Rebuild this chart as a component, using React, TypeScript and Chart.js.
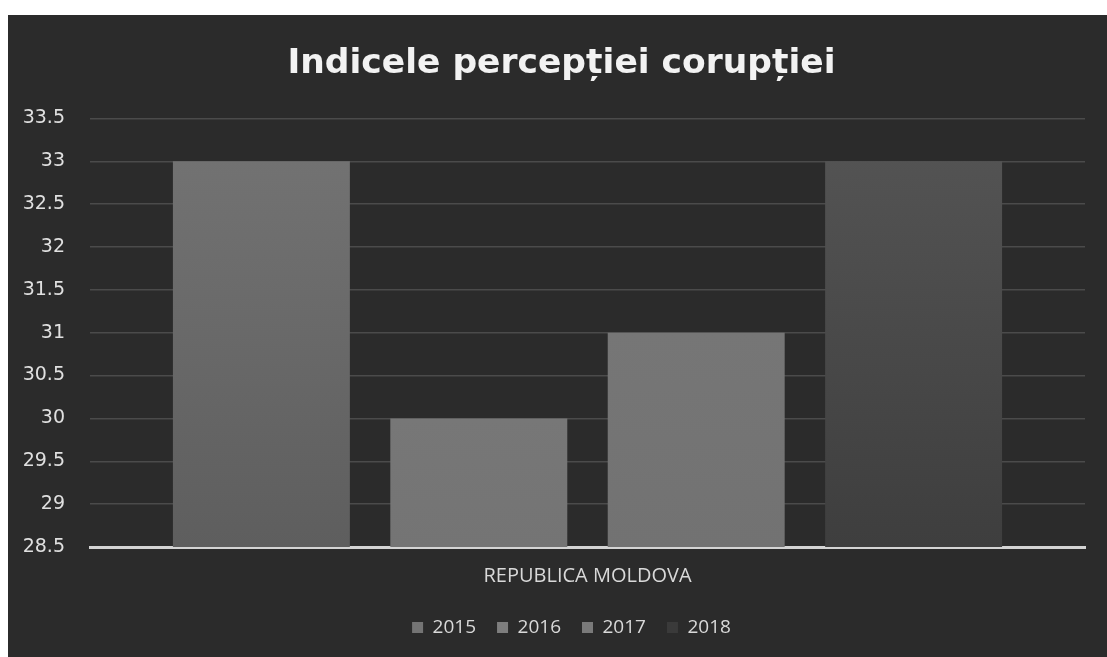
import React, { useEffect, useRef } from "react";
import { Chart, registerables } from "chart.js";

Chart.register(...registerables);

const categories = ["REPUBLICA MOLDOVA"];
const seriesNames = ["2015", "2016", "2017", "2018"];
const seriesValues = [33, 30, 31, 33];
const seriesTop = ["#747474", "#7e7e7e", "#7a7a7a", "#555555"];
const seriesBottom = ["#5e5e5e", "#747474", "#727272", "#3e3e3e"];
const yMin = 28.5;
const yMax = 33.5;
const yStep = 0.5;
const titleText = "Indicele percepției corupției";

const FONT = "'Open Sans', 'DejaVu Sans', sans-serif";
const FONT_WIDE = "'DejaVu Sans', sans-serif";

const boxShift = {
  id: "boxShift",
  afterLayout(chart: any) {
    const lg = chart.legend;
    if (lg) {
      lg.left += 25;
      lg.right += 25;
    }
    const tt = chart.titleBlock;
    if (tt) {
      tt.left += 15;
      tt.right += 15;
    }
  },
};

export default function App() {
  const ref = useRef<HTMLCanvasElement | null>(null);

  useEffect(() => {
    if (!ref.current) return;
    const datasets = seriesNames.map((name, i) => ({
      label: name,
      data: [seriesValues[i]],
      backgroundColor: (ctx: any) => {
        const area = ctx.chart.chartArea;
        if (!area) return seriesTop[i];
        const g = ctx.chart.ctx.createLinearGradient(0, area.top, 0, area.bottom);
        g.addColorStop(0, seriesTop[i]);
        g.addColorStop(1, seriesBottom[i]);
        return g;
      },
      borderWidth: 0,
      categoryPercentage: 0.874,
      barPercentage: 0.814,
    }));

    const chart = new Chart(ref.current, {
      type: "bar",
      data: { labels: categories, datasets },
      plugins: [boxShift],
      options: {
        animation: false,
        responsive: false,
        layout: { padding: { left: 0, right: 22, top: 0, bottom: 10 } },
        plugins: {
          title: {
            display: true,
            text: titleText,
            color: "#f2f2f2",
            font: { family: FONT_WIDE, size: 34.5, weight: "bold" },
            padding: { top: 28, bottom: 34 },
          },
          legend: {
            position: "bottom",
            labels: {
              color: "#d9d9d9",
              font: { family: FONT, size: 19 },
              boxWidth: 11,
              boxHeight: 11,
              padding: 21,
              generateLabels: () =>
                seriesNames.map((n, i) => ({
                  text: n,
                  fillStyle: i === 3 ? "#3a3a3a" : seriesTop[i],
                  strokeStyle: i === 3 ? "#3a3a3a" : seriesTop[i],
                  lineWidth: 0,
                  fontColor: "#d9d9d9",
                  datasetIndex: i,
                  hidden: false,
                })),
            },
          },
          tooltip: { enabled: false },
        },
        scales: {
          x: {
            grid: { display: false, drawTicks: false },
            border: { display: true, color: "#d4d4d4", width: 3 },
            ticks: {
              color: "#d9d9d9",
              font: { family: FONT, size: 20 },
              padding: 17,
            },
            afterFit: (scale: any) => {
              scale.height = 50;
            },
          },
          y: {
            min: yMin,
            max: yMax,
            grid: {
              drawTicks: false,
              color: (ctx: any) =>
                ctx.tick && ctx.tick.value === yMin ? "rgba(0,0,0,0)" : "#4b4b4b",
              lineWidth: 1.5,
            },
            border: { display: false },
            ticks: {
              stepSize: yStep,
              color: "#e0e0e0",
              font: { family: FONT_WIDE, size: 19 },
              padding: 25,
              callback: (v: any) => String(Number(v)),
            },
            afterFit: (scale: any) => {
              scale.width = 82;
            },
          },
        },
      },
    });
    return () => chart.destroy();
  }, []);

  return (
    <div
      style={{
        position: "fixed",
        left: 8,
        top: 15,
        width: 1099,
        height: 642,
        background: "#2b2b2b",
      }}
    >
      <canvas ref={ref} width={1099} height={642} />
    </div>
  );
}
